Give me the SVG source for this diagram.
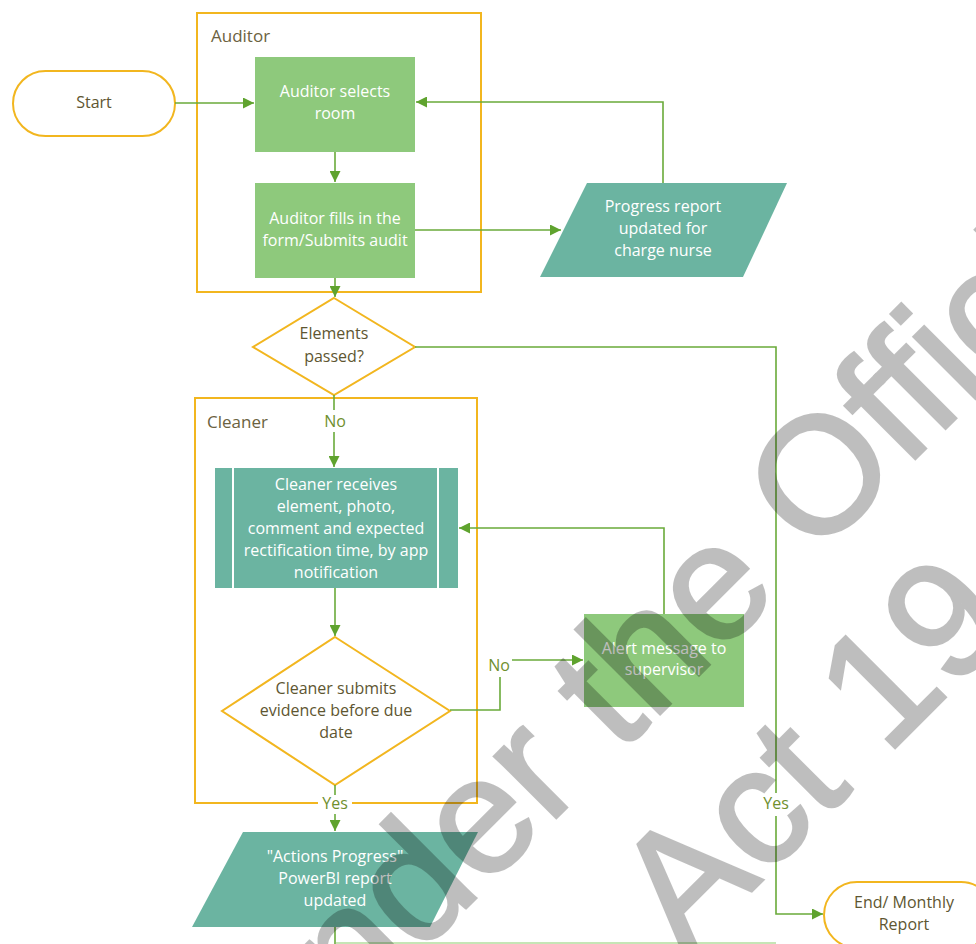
<svg xmlns="http://www.w3.org/2000/svg" width="976" height="944" viewBox="0 0 976 944">
<style>
  .lane{fill:none;stroke:#f2b61f;stroke-width:2}
  .term{fill:#fff;stroke:#f2b61f;stroke-width:2}
  .dia{fill:#fff;stroke:#f2b61f;stroke-width:2}
  .lg{fill:#8ec97c}
  .teal{fill:#6bb4a1}
  .wt{font-family:"Open Sans","Liberation Sans",sans-serif;font-size:16px;fill:#ffffff;text-anchor:middle}
  .dt{font-family:"Open Sans","Liberation Sans",sans-serif;font-size:16px;fill:#5e5631;text-anchor:middle}
  .ll{font-family:"Open Sans","Liberation Sans",sans-serif;font-size:17px;fill:#6b6240}
  .yn{font-family:"Open Sans","Liberation Sans",sans-serif;font-size:16px;fill:#6f8f2e;text-anchor:middle}
  .c{fill:none;stroke:#6aaa3a;stroke-width:1.6}
  .wm{font-family:"Liberation Sans",Arial,sans-serif;font-size:165px;fill:#000;stroke:#000;stroke-width:3}
</style>
<defs>
  <marker id="arr" viewBox="0 0 10 10" refX="10" refY="5" markerWidth="11" markerHeight="11" markerUnits="userSpaceOnUse" orient="auto">
    <path d="M0,0 L10,5 L0,10 z" fill="#5fa32e"/>
  </marker>
</defs>
<rect width="976" height="944" fill="#fff"/>

<g id="lane-auditor">
  <rect class="lane" x="197" y="13" width="284" height="279"/>
  <text class="ll" x="211" y="42">Auditor</text>
</g>
<g id="lane-cleaner">
  <rect class="lane" x="195" y="398" width="282" height="405"/>
  <text class="ll" x="207" y="428">Cleaner</text>
</g>

<g id="start">
  <rect class="term" x="13" y="71" width="162" height="65" rx="32.5"/>
  <text class="dt" x="94" y="108">Start</text>
</g>
<g id="auditor-selects">
  <rect class="lg" x="255" y="57" width="160" height="95"/>
  <text class="wt" x="335" y="97">Auditor selects</text>
  <text class="wt" x="335" y="119">room</text>
</g>
<g id="auditor-fills">
  <rect class="lg" x="255" y="183" width="160" height="95"/>
  <text class="wt" x="335" y="224">Auditor fills in the</text>
  <text class="wt" x="335" y="246">form/Submits audit</text>
</g>
<g id="progress-report">
  <polygon class="teal" points="587,183 787,183 743,277 540,277"/>
  <text class="wt" x="663" y="212">Progress report</text>
  <text class="wt" x="663" y="234">updated for</text>
  <text class="wt" x="663" y="256">charge nurse</text>
</g>
<g id="elements-passed">
  <polygon class="dia" points="334,298 415,347 334,395 253,347"/>
  <text class="dt" x="334" y="339">Elements</text>
  <text class="dt" x="334" y="362">passed?</text>
</g>
<g id="cleaner-receives">
  <rect class="teal" x="215" y="468" width="243" height="120"/>
  <line x1="233" y1="468" x2="233" y2="588" stroke="#fff" stroke-width="2"/>
  <line x1="438" y1="468" x2="438" y2="588" stroke="#fff" stroke-width="2"/>
  <text class="wt" x="336" y="490">Cleaner receives</text>
  <text class="wt" x="336" y="512">element, photo,</text>
  <text class="wt" x="336" y="534">comment and expected</text>
  <text class="wt" x="336" y="556">rectification time, by app</text>
  <text class="wt" x="336" y="578">notification</text>
</g>
<g id="cleaner-submits">
  <polygon class="dia" points="335,637 450,711 335,785 222,711"/>
  <text class="dt" x="336" y="694">Cleaner submits</text>
  <text class="dt" x="336" y="716">evidence before due</text>
  <text class="dt" x="336" y="738">date</text>
</g>
<g id="alert">
  <rect class="lg" x="584" y="614" width="160" height="93"/>
  <text class="wt" x="664" y="654">Alert message to</text>
  <text class="wt" x="664" y="675">supervisor</text>
</g>
<g id="powerbi">
  <polygon class="teal" points="243,832 478,832 430,927 192,927"/>
  <text class="wt" x="335" y="862">"Actions Progress"</text>
  <text class="wt" x="335" y="884">PowerBI report</text>
  <text class="wt" x="335" y="906">updated</text>
</g>
<g id="end">
  <rect class="term" x="824" y="882" width="170" height="66" rx="33"/>
  <text class="dt" x="904" y="908">End/ Monthly</text>
  <text class="dt" x="904" y="930">Report</text>
</g>

<g id="connectors">
  <path class="c" d="M175,103 H254" marker-end="url(#arr)"/>
  <path class="c" d="M335,152 V182" marker-end="url(#arr)"/>
  <path class="c" d="M415,230 H561" marker-end="url(#arr)"/>
  <path class="c" d="M663,183 V102 H416" marker-end="url(#arr)"/>
  <path class="c" d="M335,278 V297" marker-end="url(#arr)"/>
  <path class="c" d="M334,395 V410"/>
  <text class="yn" x="335" y="427">No</text>
  <path class="c" d="M334,432 V467" marker-end="url(#arr)"/>
  <path class="c" d="M415,347 H776 V793"/>
  <text class="yn" x="776" y="809">Yes</text>
  <path class="c" d="M776,816 V914 H823" marker-end="url(#arr)"/>
  <path class="c" d="M335,588 V636" marker-end="url(#arr)"/>
  <path class="c" d="M450,710 H500 V677"/>
  <text class="yn" x="499" y="671">No</text>
  <path class="c" d="M512,660 H583" marker-end="url(#arr)"/>
  <path class="c" d="M664,614 V528 H459" marker-end="url(#arr)"/>
  <path class="c" d="M335,785 V796"/>
  <rect x="318" y="795" width="34" height="18" fill="#fff"/>
  <text class="yn" x="335" y="809">Yes</text>
  <path class="c" d="M335,814 V831" marker-end="url(#arr)"/>
  <path class="c" d="M335,927 V944"/>
  <path d="M336,943 H776" stroke="#c6e5b6" stroke-width="2" fill="none"/>
</g>

<g id="watermark" opacity="0.25" transform="translate(814,560) rotate(-45)">
  <text class="wm" x="-651" y="0">nder the Offici</text>
  <text class="wm" x="-372" y="190">Act 19</text>
</g>
</svg>
